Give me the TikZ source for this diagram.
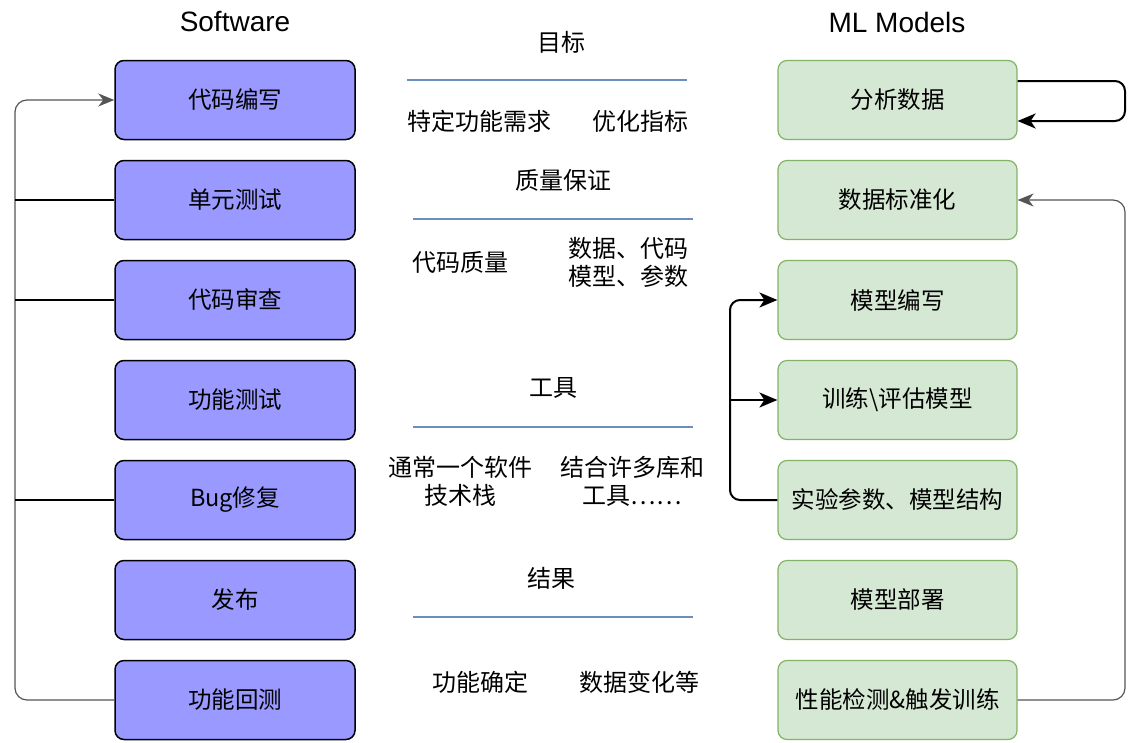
\documentclass[tikz,border=0pt]{standalone}
\usepackage{fontspec}
\setmainfont{Noto Sans CJK SC}
\newfontfamily\titlefont{Liberation Sans}
\usetikzlibrary{arrows.meta}
\definecolor{swfill}{HTML}{9999FF}
\definecolor{mlfill}{HTML}{D5E8D4}
\definecolor{mldraw}{HTML}{82B366}
\definecolor{sepblue}{HTML}{6C8EBF}
\definecolor{graylink}{HTML}{555555}
\begin{document}
\begin{tikzpicture}[x=1pt,y=-1pt,
  swbox/.style={draw=black, line width=1.5pt, fill=swfill, rounded corners=9pt, minimum width=240pt, minimum height=79pt, inner sep=0pt, font=\fontsize{23.5}{28}\selectfont},
  mlbox/.style={draw=mldraw, line width=1.2pt, fill=mlfill, rounded corners=9pt, minimum width=239pt, minimum height=79pt, inner sep=0pt, font=\fontsize{23.5}{28}\selectfont},
  midtxt/.style={font=\fontsize{24}{28}\selectfont, align=center, inner sep=0pt},
  title/.style={font=\titlefont\fontsize{28}{32}\selectfont, inner sep=0pt},
  sep/.style={draw=sepblue, line width=1.2pt},
  blk/.style={draw=black, line width=2pt, rounded corners=10pt},
  gry/.style={draw=graylink, line width=1.2pt, rounded corners=12pt},
  arrowblk/.style={arrows={-Stealth[length=18pt,width=15pt,inset=5pt]}},
  arrowgry/.style={arrows={-Stealth[length=16pt,width=13pt,inset=5pt]}}
]
\useasboundingbox (0,0) rectangle (1142,742);
\fill[white] (0,0) rectangle (1142,742);

% titles
\node[title] (tsw) at (235,22) {Software};
\node[title] (tml) at (897,22) {ML Models};

% software boxes
\node[swbox] (s1) at (235,100) {代码编写};
\node[swbox] (s2) at (235,200) {单元测试};
\node[swbox] (s3) at (235,300) {代码审查};
\node[swbox] (s4) at (235,400) {功能测试};
\node[swbox] (s5) at (235,500) {Bug修复};
\node[swbox] (s6) at (235,600) {发布};
\node[swbox] (s7) at (235,700) {功能回测};

% ML boxes
\node[mlbox] (m1) at (897.5,100) {分析数据};
\node[mlbox] (m2) at (897.5,200) {数据标准化};
\node[mlbox] (m3) at (897.5,300) {模型编写};
\node[mlbox] (m4) at (897.5,400) {训练\textbackslash 评估模型};
\node[mlbox] (m5) at (897.5,500) {实验参数、模型结构};
\node[mlbox] (m6) at (897.5,600) {模型部署};
\node[mlbox] (m7) at (897.5,700) {性能检测\&触发训练};

% middle column
\node[midtxt] (h1) at (561,42) {目标};
\coordinate (l1a) at (407,80); \coordinate (l1b) at (687,80);
\draw[sep] (l1a) -- (l1b);
\node[midtxt] (a1) at (479,121) {特定功能需求};
\node[midtxt] (b1) at (640,121) {优化指标};

\node[midtxt] (h2) at (563,180) {质量保证};
\coordinate (l2a) at (413,219); \coordinate (l2b) at (693,219);
\draw[sep] (l2a) -- (l2b);
\node[midtxt] (a2) at (460,262) {代码质量};
\node[midtxt] (b2) at (628,262) {数据、代码\\模型、参数};

\node[midtxt] (h3) at (553,388) {工具};
\coordinate (l3a) at (413,427); \coordinate (l3b) at (693,427);
\draw[sep] (l3a) -- (l3b);
\node[midtxt] (a3) at (460,481) {通常一个软件\\技术栈};
\node[midtxt] (b3) at (632,481) {结合许多库和\\工具……};

\node[midtxt] (h4) at (551,578) {结果};
\coordinate (l4a) at (413,617); \coordinate (l4b) at (693,617);
\draw[sep] (l4a) -- (l4b);
\node[midtxt] (a4) at (480,682) {功能确定};
\node[midtxt] (b4) at (639,682) {数据变化等};

% left feedback loop
\coordinate (lx) at (15,0);
\draw[gry, arrowgry] (s7.west) -| (lx |- s5.west) |- (s1.west);
\draw[black, line width=1.5pt] (s2.west) -- (lx |- s2.west);
\draw[black, line width=1.5pt] (s3.west) -- (lx |- s3.west);
\draw[black, line width=1.5pt] (s5.west) -- (lx |- s5.west);

% right self loop on m1
\coordinate (r1a) at ([yshift=19pt]m1.east);
\coordinate (r1b) at ([yshift=-21pt]m1.east);
\coordinate (rx) at (1125,0);
\draw[blk, arrowblk] (r1a) -- (rx |- r1a) |- (r1b);

% gray return loop m7 -> m2
\draw[gry, arrowgry] (m7.east) -| (rx |- m5.east) |- (m2.east);

% black loop m5 -> m3, m4
\coordinate (kx) at (730,0);
\draw[blk, arrowblk] (m5.west) -| (kx |- m4.west) |- (m3.west);
\draw[black, line width=2pt, arrowblk] (kx |- m4.west) -- (m4.west);
\end{tikzpicture}
\end{document}
